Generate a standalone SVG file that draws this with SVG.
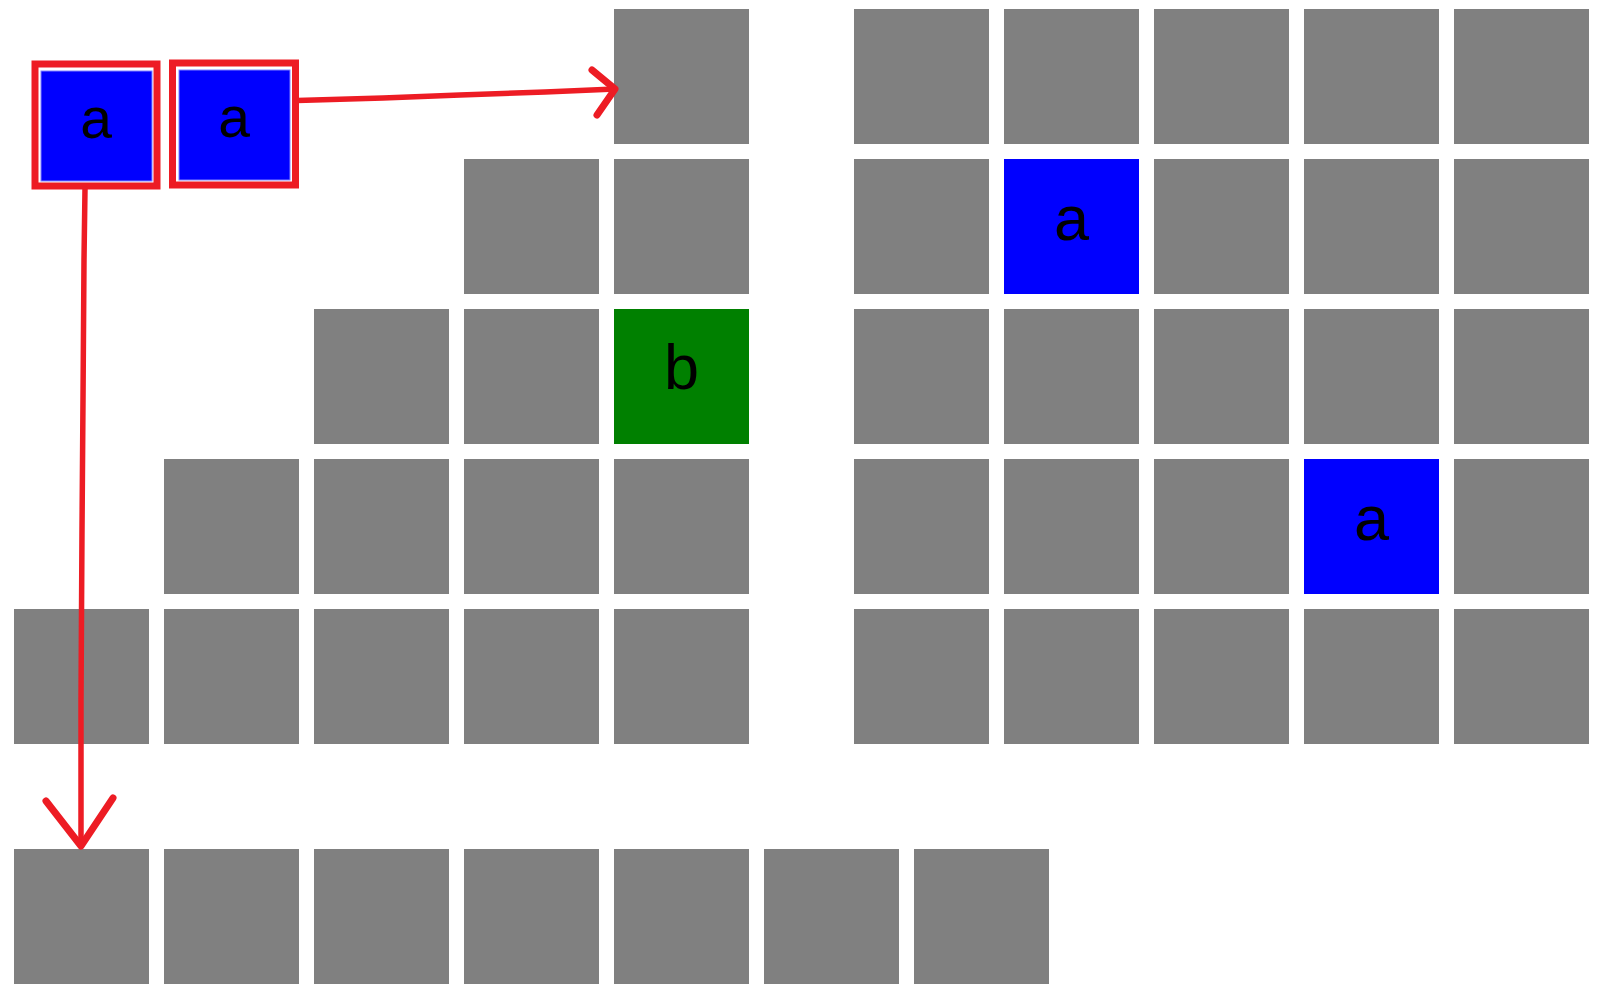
<svg xmlns="http://www.w3.org/2000/svg" width="1598" height="998" viewBox="0 0 1598 998">
<style>
.g{fill:#808080}
.b{fill:#0000ff}
.gr{fill:#008000}
.sel{fill:none;stroke:#ed1c24;stroke-width:7}
.sb{fill:#0000ff;stroke:#8080ff;stroke-width:1}
.t{font-family:"Liberation Sans",Arial,sans-serif;font-size:63px;fill:#000;text-anchor:middle}
.ts{font-family:"Liberation Sans",Arial,sans-serif;font-size:57px;fill:#000;text-anchor:middle}
.c{fill:none;stroke:#ed1c24;stroke-width:5.5;stroke-linecap:round;stroke-linejoin:round}
.h{fill:none;stroke:#ed1c24;stroke-width:7;stroke-linecap:round;stroke-linejoin:round}
</style>
<rect width="1598" height="998" fill="#fff"/>
<g id="left-stair">
<rect id="L0-4" class="g" x="614" y="9" width="135" height="135"/>
<rect id="L1-3" class="g" x="464" y="159" width="135" height="135"/>
<rect id="L1-4" class="g" x="614" y="159" width="135" height="135"/>
<rect id="L2-2" class="g" x="314" y="309" width="135" height="135"/>
<rect id="L2-3" class="g" x="464" y="309" width="135" height="135"/>
<g id="L2-4"><rect class="gr" x="614" y="309" width="135" height="135"/><text class="t" x="681.5" y="389">b</text></g>
<rect id="L3-1" class="g" x="164" y="459" width="135" height="135"/>
<rect id="L3-2" class="g" x="314" y="459" width="135" height="135"/>
<rect id="L3-3" class="g" x="464" y="459" width="135" height="135"/>
<rect id="L3-4" class="g" x="614" y="459" width="135" height="135"/>
<rect id="L4-0" class="g" x="14" y="609" width="135" height="135"/>
<rect id="L4-1" class="g" x="164" y="609" width="135" height="135"/>
<rect id="L4-2" class="g" x="314" y="609" width="135" height="135"/>
<rect id="L4-3" class="g" x="464" y="609" width="135" height="135"/>
<rect id="L4-4" class="g" x="614" y="609" width="135" height="135"/>
</g>
<g id="bottom-row">
<rect id="B0" class="g" x="14" y="849" width="135" height="135"/>
<rect id="B1" class="g" x="164" y="849" width="135" height="135"/>
<rect id="B2" class="g" x="314" y="849" width="135" height="135"/>
<rect id="B3" class="g" x="464" y="849" width="135" height="135"/>
<rect id="B4" class="g" x="614" y="849" width="135" height="135"/>
<rect id="B5" class="g" x="764" y="849" width="135" height="135"/>
<rect id="B6" class="g" x="914" y="849" width="135" height="135"/>
</g>
<g id="right-grid">
<rect id="R0-0" class="g" x="854" y="9" width="135" height="135"/>
<rect id="R0-1" class="g" x="1004" y="9" width="135" height="135"/>
<rect id="R0-2" class="g" x="1154" y="9" width="135" height="135"/>
<rect id="R0-3" class="g" x="1304" y="9" width="135" height="135"/>
<rect id="R0-4" class="g" x="1454" y="9" width="135" height="135"/>
<rect id="R1-0" class="g" x="854" y="159" width="135" height="135"/>
<g id="R1-1"><rect class="b" x="1004" y="159" width="135" height="135"/><text class="t" x="1071.5" y="240">a</text></g>
<rect id="R1-2" class="g" x="1154" y="159" width="135" height="135"/>
<rect id="R1-3" class="g" x="1304" y="159" width="135" height="135"/>
<rect id="R1-4" class="g" x="1454" y="159" width="135" height="135"/>
<rect id="R2-0" class="g" x="854" y="309" width="135" height="135"/>
<rect id="R2-1" class="g" x="1004" y="309" width="135" height="135"/>
<rect id="R2-2" class="g" x="1154" y="309" width="135" height="135"/>
<rect id="R2-3" class="g" x="1304" y="309" width="135" height="135"/>
<rect id="R2-4" class="g" x="1454" y="309" width="135" height="135"/>
<rect id="R3-0" class="g" x="854" y="459" width="135" height="135"/>
<rect id="R3-1" class="g" x="1004" y="459" width="135" height="135"/>
<rect id="R3-2" class="g" x="1154" y="459" width="135" height="135"/>
<g id="R3-3"><rect class="b" x="1304" y="459" width="135" height="135"/><text class="t" x="1371.5" y="540">a</text></g>
<rect id="R3-4" class="g" x="1454" y="459" width="135" height="135"/>
<rect id="R4-0" class="g" x="854" y="609" width="135" height="135"/>
<rect id="R4-1" class="g" x="1004" y="609" width="135" height="135"/>
<rect id="R4-2" class="g" x="1154" y="609" width="135" height="135"/>
<rect id="R4-3" class="g" x="1304" y="609" width="135" height="135"/>
<rect id="R4-4" class="g" x="1454" y="609" width="135" height="135"/>
</g>
<g id="piece-1">
<rect class="sb" x="41" y="71" width="111" height="110"/>
<rect class="sel" x="35" y="64" width="122" height="122"/>
<text class="ts" x="96" y="138">a</text>
</g>
<g id="piece-2">
<rect class="sb" x="179" y="70" width="111" height="110"/>
<rect class="sel" x="172.5" y="63" width="123" height="122"/>
<text class="ts" x="234" y="137">a</text>
</g>
<g id="connectors">
<path class="c" d="M297 100.5 L383 98 L460 95 L545 92 L615 89"/>
<path class="h" d="M592 70 L615 89 L597 115"/>
<path class="c" d="M85 189 L84 260 L83 400 L82 530 L81 700 L81 846"/>
<path class="h" d="M46 801 L81 846 L113 798"/>
</g>
</svg>
